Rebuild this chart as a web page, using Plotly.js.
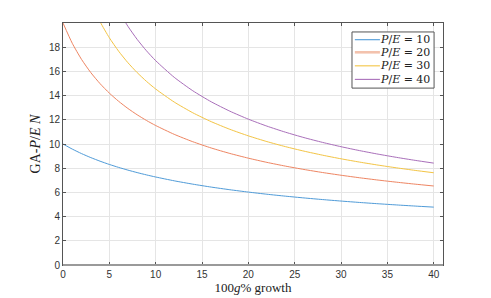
<!DOCTYPE html>
<html>
<head>
<meta charset="utf-8">
<script src="https://cdn.plot.ly/plotly-3.0.1.min.js"></script>
<style>html,body{margin:0;padding:0;background:#fff;}#chart{width:491px;height:298px;}</style>
</head>
<body>
<div id="chart"></div>
<script>
// growth in percent (x axis)
const growth = [0,1,2,3,4,5,6,7,8,9,10,12,14,16,18,20,22,24,26,28,30,32,34,36,38,40];
// series values (GA-P/E N)
const pe10 = [10,9.579,9.207,8.876,8.579,8.310,8.066,7.843,7.637,7.448,7.273,6.957,6.682,6.438,6.221,6.026,5.849,5.689,5.543,5.408,5.284,5.169,5.062,4.963,4.870,4.783];
const pe20 = [20,18.323,16.991,15.901,14.987,14.207,13.531,12.939,12.415,11.948,11.527,10.799,10.189,9.669,9.220,8.828,8.481,8.172,7.895,7.644,7.417,7.209,7.019,6.843,6.681,6.530];
const pe30 = [30,26.367,23.734,21.714,20.103,18.780,17.670,16.722,15.901,15.182,14.545,13.466,12.582,11.844,11.215,10.673,10.199,9.782,9.410,9.077,8.776,8.504,8.255,8.027,7.817,7.623];
const pe40 = [40,33.815,29.682,26.674,24.362,22.517,21.002,19.731,18.647,17.708,16.886,15.511,14.402,13.485,12.713,12.051,11.478,10.975,10.530,10.133,9.776,9.454,9.161,8.893,8.647,8.420];
const seriesNames = ['<i>P</i>/<i>E</i> = 10','<i>P</i>/<i>E</i> = 20','<i>P</i>/<i>E</i> = 30','<i>P</i>/<i>E</i> = 40'];
const xTicks = [0,5,10,15,20,25,30,35,40];
const yTicks = [0,2,4,6,8,10,12,14,16,18];

const colors = ['#4f9bd8','#ee8562','#f3c444','#a96fba'];
const legendColors = ['#4f9bd8','#f3c2ad','#f3c444','#a96fba'];
const legendWidths = [1.1, 2.6, 1.1, 1.1];
const series = [pe10, pe20, pe30, pe40];
const traces = series.map((ys, i) => ({
  x: growth, y: ys, type: 'scatter', mode: 'lines', name: seriesNames[i],
  line: {color: colors[i], width: 1, shape: 'spline', smoothing: 0.6}
}));

// custom legend (box, samples, labels) in paper coordinates
const legRowY = [0.931, 0.879, 0.823, 0.767];
const shapes = [
  {type: 'line', xref: 'paper', yref: 'paper', x0: 0, x1: 1, y0: 0, y1: 0,
   line: {color: '#9a9a9a', width: 2}},
  {type: 'rect', xref: 'paper', yref: 'paper', x0: 0.7605, x1: 0.9765, y0: 0.731, y1: 0.963,
   fillcolor: '#fff', line: {color: '#555', width: 1}, layer: 'above'}
];
const annotations = [];
seriesNames.forEach((nm, i) => {
  shapes.push({type: 'line', xref: 'paper', yref: 'paper', x0: 0.768, x1: 0.834,
               y0: legRowY[i], y1: legRowY[i], layer: 'above',
               line: {color: legendColors[i], width: legendWidths[i]}});
  annotations.push({xref: 'paper', yref: 'paper', x: 0.972, y: legRowY[i],
                    xanchor: 'right', yanchor: 'middle', showarrow: false, text: nm,
                    font: {family: 'DejaVu Serif, Liberation Serif, serif', size: 11, color: '#222'}});
});

const layout = {
  width: 491, height: 298,
  margin: {l: 63, r: 48, t: 23, b: 33},
  paper_bgcolor: '#fff', plot_bgcolor: '#fff',
  font: {family: 'Liberation Sans, Arial, sans-serif', size: 10, color: '#333'},
  showlegend: false,
  xaxis: {
    range: [0, 41], tickvals: xTicks, ticktext: xTicks.map(String),
    ticks: 'inside', ticklen: 3, tickcolor: '#555', tickwidth: 1,
    showline: true, linecolor: '#555', linewidth: 1, mirror: 'ticks',
    showgrid: true, gridcolor: '#e5e5e5', gridwidth: 1, zeroline: false,
    tickfont: {size: 10, color: '#333'},
    title: {text: '100<i>g</i>% growth', standoff: 2,
            font: {family: 'Liberation Serif, DejaVu Serif, serif', size: 13, color: '#222'}}
  },
  yaxis: {
    range: [0, 20], tickvals: yTicks, ticktext: yTicks.map(String),
    ticks: 'inside', ticklen: 3, tickcolor: '#555', tickwidth: 1,
    showline: true, linecolor: '#555', linewidth: 1, mirror: 'ticks',
    showgrid: true, gridcolor: '#e5e5e5', gridwidth: 1, zeroline: false,
    tickfont: {size: 10, color: '#333'},
    title: {text: 'GA-<i>P</i>/<i>E</i> <i>N</i>', standoff: 4,
            font: {family: 'Liberation Serif, DejaVu Serif, serif', size: 14, color: '#222'}}
  },
  shapes: shapes,
  annotations: annotations
};

Plotly.newPlot('chart', traces, layout, {displayModeBar: false, staticPlot: true});
</script>
</body>
</html>
